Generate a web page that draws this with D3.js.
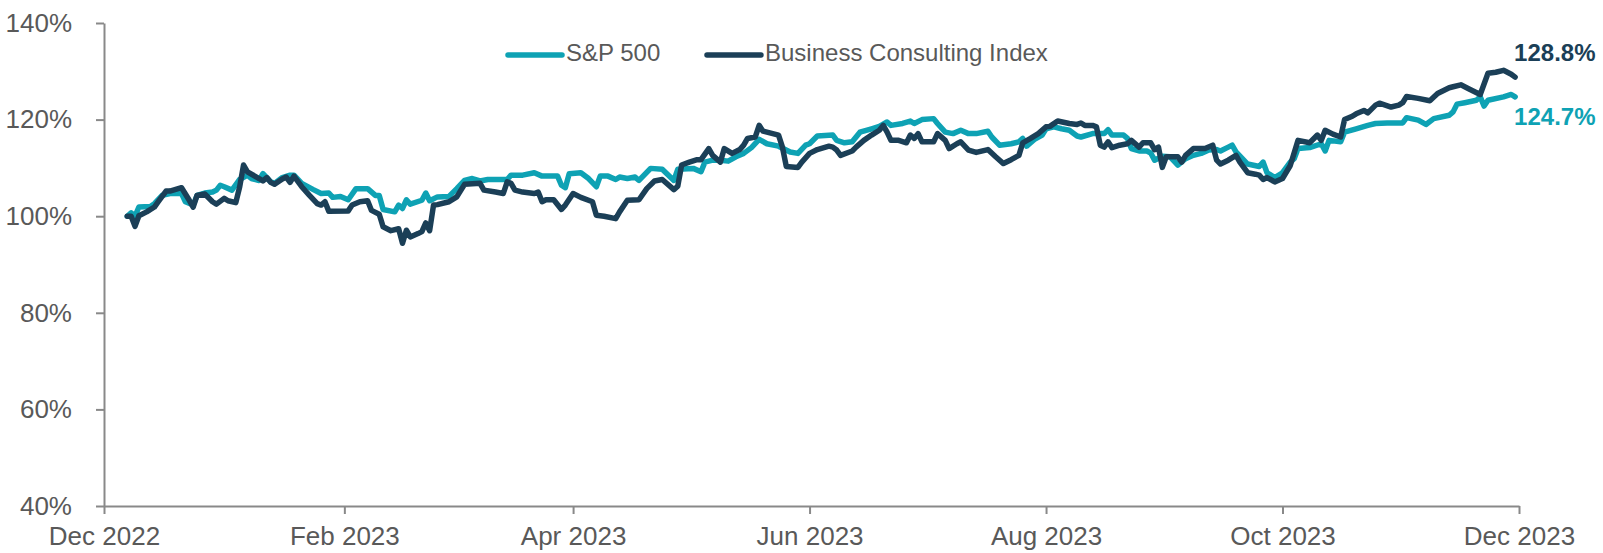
<!DOCTYPE html>
<html>
<head>
<meta charset="utf-8">
<script src="https://cdn.jsdelivr.net/npm/d3@7"></script>
<style>
	body { margin: 0; background: #fff; }
	svg text { font-family: Arial, "Liberation Sans", sans-serif; }
</style>
</head>
<body>
<svg id="chart" width="1603" height="553"></svg>
<script>

/* --------------------- Data ---------------------- */

// series names, in legend order
let seriesNames = ['S&P 500', 'Business Consulting Index'];

// axis ticks
let yTicks = [40, 60, 80, 100, 120, 140];
let xTickDates = ['2022-12-01', '2023-02-01', '2023-04-01', '2023-06-01', '2023-08-01', '2023-10-01', '2023-12-01'];

// S&P 500, rebased to 100%
let spDates = [
	'2022-12-07', '2022-12-08', '2022-12-09', '2022-12-10', '2022-12-13', '2022-12-14', '2022-12-16', '2022-12-18',
	'2022-12-21', '2022-12-22', '2022-12-24', '2022-12-25', '2022-12-27', '2022-12-29', '2022-12-30', '2022-12-31',
	'2023-01-01', '2023-01-03', '2023-01-05', '2023-01-07', '2023-01-08', '2023-01-10', '2023-01-11', '2023-01-13',
	'2023-01-14', '2023-01-16', '2023-01-18', '2023-01-19', '2023-01-21', '2023-01-24', '2023-01-26', '2023-01-28',
	'2023-01-29', '2023-01-31', '2023-02-02', '2023-02-04', '2023-02-07', '2023-02-09', '2023-02-10', '2023-02-11',
	'2023-02-14', '2023-02-15', '2023-02-16', '2023-02-17', '2023-02-18', '2023-02-21', '2023-02-22', '2023-02-23',
	'2023-02-25', '2023-02-28', '2023-03-02', '2023-03-04', '2023-03-06', '2023-03-08', '2023-03-10', '2023-03-15',
	'2023-03-16', '2023-03-19', '2023-03-22', '2023-03-24', '2023-03-28', '2023-03-29', '2023-03-30', '2023-03-31',
	'2023-04-03', '2023-04-05', '2023-04-07', '2023-04-08', '2023-04-10', '2023-04-12', '2023-04-13', '2023-04-15',
	'2023-04-17', '2023-04-18', '2023-04-21', '2023-04-24', '2023-04-27', '2023-04-28', '2023-05-02', '2023-05-04',
	'2023-05-05', '2023-05-07', '2023-05-09', '2023-05-11', '2023-05-13', '2023-05-15', '2023-05-17', '2023-05-19',
	'2023-05-21', '2023-05-24', '2023-05-27', '2023-05-29', '2023-05-31', '2023-06-01', '2023-06-03', '2023-06-07',
	'2023-06-08', '2023-06-10', '2023-06-12', '2023-06-14', '2023-06-17', '2023-06-19', '2023-06-21', '2023-06-22',
	'2023-06-25', '2023-06-27', '2023-06-28', '2023-06-30', '2023-07-03', '2023-07-04', '2023-07-06', '2023-07-08',
	'2023-07-10', '2023-07-12', '2023-07-14', '2023-07-17', '2023-07-18', '2023-07-20', '2023-07-23', '2023-07-25',
	'2023-07-26', '2023-07-27', '2023-07-29', '2023-07-31', '2023-08-01', '2023-08-03', '2023-08-05', '2023-08-07',
	'2023-08-09', '2023-08-10', '2023-08-13', '2023-08-16', '2023-08-17', '2023-08-18', '2023-08-21', '2023-08-22',
	'2023-08-23', '2023-08-25', '2023-08-27', '2023-08-28', '2023-08-29', '2023-08-31', '2023-09-02', '2023-09-04',
	'2023-09-06', '2023-09-08', '2023-09-10', '2023-09-12', '2023-09-14', '2023-09-15', '2023-09-17', '2023-09-18',
	'2023-09-19', '2023-09-22', '2023-09-25', '2023-09-26', '2023-09-27', '2023-09-29', '2023-10-01', '2023-10-03',
	'2023-10-04', '2023-10-05', '2023-10-08', '2023-10-11', '2023-10-12', '2023-10-13', '2023-10-16', '2023-10-17',
	'2023-10-20', '2023-10-23', '2023-10-25', '2023-10-28', '2023-11-01', '2023-11-02', '2023-11-05', '2023-11-07',
	'2023-11-09', '2023-11-13', '2023-11-14', '2023-11-15', '2023-11-17', '2023-11-20', '2023-11-21', '2023-11-22',
	'2023-11-23', '2023-11-27', '2023-11-29', '2023-11-30'
];
let spValues = [
	100.0, 100.7, 100.0, 101.9, 102.0, 102.6, 104.3, 104.7,
	104.7, 103.0, 102.3, 104.3, 104.8, 105.0, 105.4, 106.4,
	106.1, 105.4, 107.6, 108.5, 107.8, 107.4, 108.8, 107.1,
	106.8, 108.0, 108.5, 108.5, 106.8, 105.5, 104.7, 104.8,
	103.9, 104.1, 103.4, 105.7, 105.7, 104.3, 104.3, 101.4,
	100.9, 102.3, 101.6, 103.4, 102.5, 103.3, 104.8, 103.2,
	104.0, 104.1, 105.7, 107.4, 107.8, 107.3, 107.6, 107.6,
	108.5, 108.5, 109.0, 108.3, 108.3, 106.4, 105.9, 108.8,
	109.0, 107.8, 106.1, 108.3, 108.3, 107.6, 108.1, 107.8,
	108.1, 107.4, 109.9, 109.7, 107.4, 109.7, 109.9, 109.2,
	111.2, 111.6, 111.6, 111.4, 112.3, 113.0, 114.2, 115.9,
	115.0, 114.5, 113.3, 113.0, 114.7, 115.0, 116.6, 116.8,
	115.7, 115.2, 115.4, 117.4, 118.1, 118.6, 119.5, 118.8,
	119.2, 119.7, 119.2, 120.0, 120.2, 119.2, 117.4, 117.1,
	117.8, 117.1, 117.1, 117.6, 116.4, 114.7, 115.0, 115.4,
	116.1, 114.5, 115.9, 116.8, 118.1, 118.5, 118.1, 117.8,
	116.6, 116.4, 117.1, 117.1, 117.9, 116.8, 116.8, 116.1,
	114.0, 113.5, 113.5, 113.1, 111.6, 112.4, 112.3, 110.6,
	111.9, 112.6, 113.0, 113.7, 113.8, 113.5, 114.3, 114.7,
	113.3, 110.8, 110.3, 111.2, 109.0, 108.0, 109.0, 111.2,
	111.9, 114.0, 114.2, 115.0, 113.5, 115.7, 115.4, 117.4,
	118.1, 118.8, 119.2, 119.3, 119.3, 120.4, 119.9, 119.0,
	120.2, 120.9, 121.6, 123.2, 123.5, 124.0, 124.7, 122.8,
	124.0, 124.7, 125.2, 124.7
];

// Business Consulting Index, rebased to 100%
let bciDates = [
	'2022-12-07', '2022-12-08', '2022-12-09', '2022-12-10', '2022-12-12', '2022-12-14', '2022-12-15', '2022-12-17',
	'2022-12-18', '2022-12-21', '2022-12-23', '2022-12-24', '2022-12-25', '2022-12-27', '2022-12-29', '2022-12-30',
	'2023-01-01', '2023-01-02', '2023-01-04', '2023-01-05', '2023-01-06', '2023-01-07', '2023-01-10', '2023-01-11',
	'2023-01-12', '2023-01-13', '2023-01-14', '2023-01-16', '2023-01-17', '2023-01-18', '2023-01-19', '2023-01-21',
	'2023-01-23', '2023-01-25', '2023-01-26', '2023-01-27', '2023-01-28', '2023-02-02', '2023-02-03', '2023-02-05',
	'2023-02-07', '2023-02-08', '2023-02-10', '2023-02-11', '2023-02-13', '2023-02-15', '2023-02-16', '2023-02-17',
	'2023-02-18', '2023-02-20', '2023-02-21', '2023-02-22', '2023-02-23', '2023-02-24', '2023-02-25', '2023-02-28',
	'2023-03-02', '2023-03-04', '2023-03-08', '2023-03-09', '2023-03-12', '2023-03-14', '2023-03-15', '2023-03-16',
	'2023-03-17', '2023-03-19', '2023-03-22', '2023-03-23', '2023-03-24', '2023-03-25', '2023-03-27', '2023-03-29',
	'2023-03-30', '2023-04-01', '2023-04-03', '2023-04-06', '2023-04-07', '2023-04-09', '2023-04-12', '2023-04-13',
	'2023-04-15', '2023-04-18', '2023-04-20', '2023-04-22', '2023-04-24', '2023-04-27', '2023-04-28', '2023-04-29',
	'2023-05-01', '2023-05-03', '2023-05-04', '2023-05-06', '2023-05-07', '2023-05-09', '2023-05-10', '2023-05-12',
	'2023-05-14', '2023-05-15', '2023-05-16', '2023-05-18', '2023-05-19', '2023-05-20', '2023-05-24', '2023-05-25',
	'2023-05-26', '2023-05-29', '2023-05-30', '2023-06-01', '2023-06-03', '2023-06-06', '2023-06-07', '2023-06-08',
	'2023-06-09', '2023-06-12', '2023-06-13', '2023-06-15', '2023-06-17', '2023-06-19', '2023-06-20', '2023-06-21',
	'2023-06-22', '2023-06-24', '2023-06-26', '2023-06-27', '2023-06-28', '2023-06-29', '2023-06-30', '2023-07-03',
	'2023-07-04', '2023-07-06', '2023-07-07', '2023-07-09', '2023-07-10', '2023-07-12', '2023-07-14', '2023-07-17',
	'2023-07-19', '2023-07-21', '2023-07-23', '2023-07-25', '2023-07-26', '2023-07-28', '2023-07-30', '2023-08-01',
	'2023-08-02', '2023-08-04', '2023-08-07', '2023-08-09', '2023-08-10', '2023-08-11', '2023-08-13', '2023-08-14',
	'2023-08-15', '2023-08-16', '2023-08-17', '2023-08-18', '2023-08-20', '2023-08-22', '2023-08-23', '2023-08-25',
	'2023-08-26', '2023-08-28', '2023-08-29', '2023-08-30', '2023-08-31', '2023-09-01', '2023-09-04', '2023-09-05',
	'2023-09-06', '2023-09-08', '2023-09-11', '2023-09-13', '2023-09-14', '2023-09-15', '2023-09-17', '2023-09-19',
	'2023-09-20', '2023-09-22', '2023-09-24', '2023-09-25', '2023-09-26', '2023-09-27', '2023-09-29', '2023-10-01',
	'2023-10-03', '2023-10-05', '2023-10-08', '2023-10-10', '2023-10-11', '2023-10-12', '2023-10-14', '2023-10-16',
	'2023-10-17', '2023-10-19', '2023-10-20', '2023-10-22', '2023-10-23', '2023-10-25', '2023-10-26', '2023-10-29',
	'2023-10-31', '2023-11-01', '2023-11-02', '2023-11-05', '2023-11-08', '2023-11-10', '2023-11-13', '2023-11-14',
	'2023-11-16', '2023-11-18', '2023-11-21', '2023-11-23', '2023-11-25', '2023-11-27', '2023-11-29', '2023-11-30'
];
let bciValues = [
	100.0, 100.0, 97.9, 100.1, 100.9, 101.9, 103.0, 105.2,
	105.2, 105.9, 103.3, 101.9, 104.3, 104.6, 103.0, 102.5,
	103.7, 103.2, 102.8, 106.1, 110.6, 109.2, 107.8, 107.3,
	108.0, 107.0, 106.6, 107.7, 108.1, 107.0, 108.3, 106.1,
	104.3, 102.6, 102.3, 103.0, 101.0, 101.1, 102.3, 103.0,
	103.2, 101.2, 100.4, 97.8, 97.0, 97.4, 94.4, 97.1,
	95.7, 96.4, 96.8, 98.6, 97.0, 102.3, 102.4, 103.0,
	104.0, 106.6, 106.8, 105.4, 105.0, 104.7, 107.1, 106.8,
	105.4, 105.0, 104.7, 105.0, 103.0, 103.4, 103.4, 101.4,
	102.3, 104.7, 103.9, 103.0, 100.2, 100.0, 99.5, 100.9,
	103.3, 103.4, 105.7, 107.3, 107.6, 105.5, 106.2, 110.6,
	111.2, 111.7, 111.7, 114.0, 112.6, 111.2, 114.0, 113.0,
	113.8, 114.7, 116.1, 116.4, 118.8, 117.6, 116.8, 114.3,
	110.3, 110.1, 111.2, 113.0, 113.8, 114.5, 114.3, 113.7,
	112.6, 113.5, 114.3, 115.7, 116.8, 117.8, 118.8, 117.4,
	115.7, 115.7, 115.2, 116.8, 116.1, 117.1, 115.4, 115.4,
	117.1, 115.7, 114.0, 115.0, 115.4, 113.7, 113.2, 113.8,
	112.3, 110.9, 111.7, 112.6, 115.2, 116.1, 117.1, 118.5,
	118.6, 119.7, 119.2, 119.0, 119.3, 118.8, 118.8, 118.5,
	114.7, 114.3, 115.4, 114.2, 114.7, 115.0, 115.7, 114.3,
	115.2, 115.2, 113.8, 114.3, 110.1, 112.3, 112.3, 111.2,
	112.6, 114.0, 114.0, 114.7, 111.6, 110.8, 111.6, 112.6,
	111.2, 109.0, 108.7, 108.5, 107.6, 108.0, 107.1, 107.8,
	110.5, 115.7, 115.2, 116.8, 115.7, 117.8, 117.0, 116.4,
	120.0, 120.7, 121.2, 121.9, 121.4, 123.0, 123.4, 122.6,
	123.0, 123.5, 124.8, 124.4, 123.9, 125.4, 126.6, 126.8,
	127.2, 126.4, 125.2, 129.6, 129.8, 130.2, 129.4, 128.8
];

/* --------------------- Chart ---------------------- */

let colors = ['#0ea2b4', '#1b3f57'];
let textColor = '#595959';
let axisColor = '#898989';

let width = 1603;
let height = 553;
let margin = {top: 23, right: 84, bottom: 47, left: 104};

let parseDate = d3.timeParse('%Y-%m-%d');

let series = [
	{name: seriesNames[0], color: colors[0], points: spDates.map((d, i) => ({date: parseDate(d), value: spValues[i]}))},
	{name: seriesNames[1], color: colors[1], points: bciDates.map((d, i) => ({date: parseDate(d), value: bciValues[i]}))}
];

let svg = d3.select('#chart');

let x = d3.scaleTime()
	.domain([parseDate(xTickDates[0]), parseDate(xTickDates[xTickDates.length - 1])])
	.range([margin.left, width - margin.right]);

let y = d3.scaleLinear()
	.domain([yTicks[0], yTicks[yTicks.length - 1]])
	.range([height - margin.bottom, margin.top]);

// y axis
let yAxis = svg.append('g')
	.attr('transform', 'translate(' + margin.left + ',0)')
	.call(d3.axisLeft(y)
		.tickValues(yTicks)
		.tickFormat(d => d + '%')
		.tickSize(8)
		.tickSizeOuter(0)
		.tickPadding(24));

// x axis
let xAxis = svg.append('g')
	.attr('transform', 'translate(0,' + (height - margin.bottom) + ')')
	.call(d3.axisBottom(x)
		.tickValues(xTickDates.map(parseDate))
		.tickFormat(d3.timeFormat('%b %Y'))
		.tickSize(8)
		.tickSizeOuter(0)
		.tickPadding(13));

[yAxis, xAxis].forEach(function(ax) {
	ax.select('.domain').attr('stroke', axisColor).attr('stroke-width', 2);
	ax.selectAll('.tick line').attr('stroke', axisColor).attr('stroke-width', 2);
	ax.selectAll('.tick text')
		.attr('fill', textColor)
		.style('font-size', '26px');
});

// lines
let line = d3.line()
	.x(d => x(d.date))
	.y(d => y(d.value));

svg.append('g')
	.selectAll('path')
	.data(series)
	.enter().append('path')
		.attr('d', d => line(d.points))
		.attr('fill', 'none')
		.attr('stroke', d => d.color)
		.attr('stroke-width', 5.5)
		.attr('stroke-linejoin', 'round')
		.attr('stroke-linecap', 'round');

// end labels: navy above its end, teal below
let labelOffsets = [22, -22];
series.forEach(function(s, i) {
	let last = s.points[s.points.length - 1];
	svg.append('text')
		.attr('x', x(last.date) - 1)
		.attr('y', y(last.value) + labelOffsets[i])
		.attr('dominant-baseline', 'middle')
		.attr('fill', s.color)
		.style('font-size', '24px')
		.style('font-weight', 'bold')
		.text(last.value.toFixed(1) + '%');
});

// legend
let legendX = [508, 707];
let legendY = 55;
let legend = svg.append('g')
	.selectAll('g')
	.data(series)
	.enter().append('g')
		.attr('transform', (d, i) => 'translate(' + legendX[i] + ',' + legendY + ')');

legend.append('line')
	.attr('x1', 0)
	.attr('x2', 54)
	.attr('stroke', d => d.color)
	.attr('stroke-width', 5.5)
	.attr('stroke-linecap', 'round');

legend.append('text')
	.attr('x', 58)
	.attr('dominant-baseline', 'middle')
	.attr('fill', textColor)
	.style('font-size', '24px')
	.text(d => d.name);

</script>
</body>
</html>
